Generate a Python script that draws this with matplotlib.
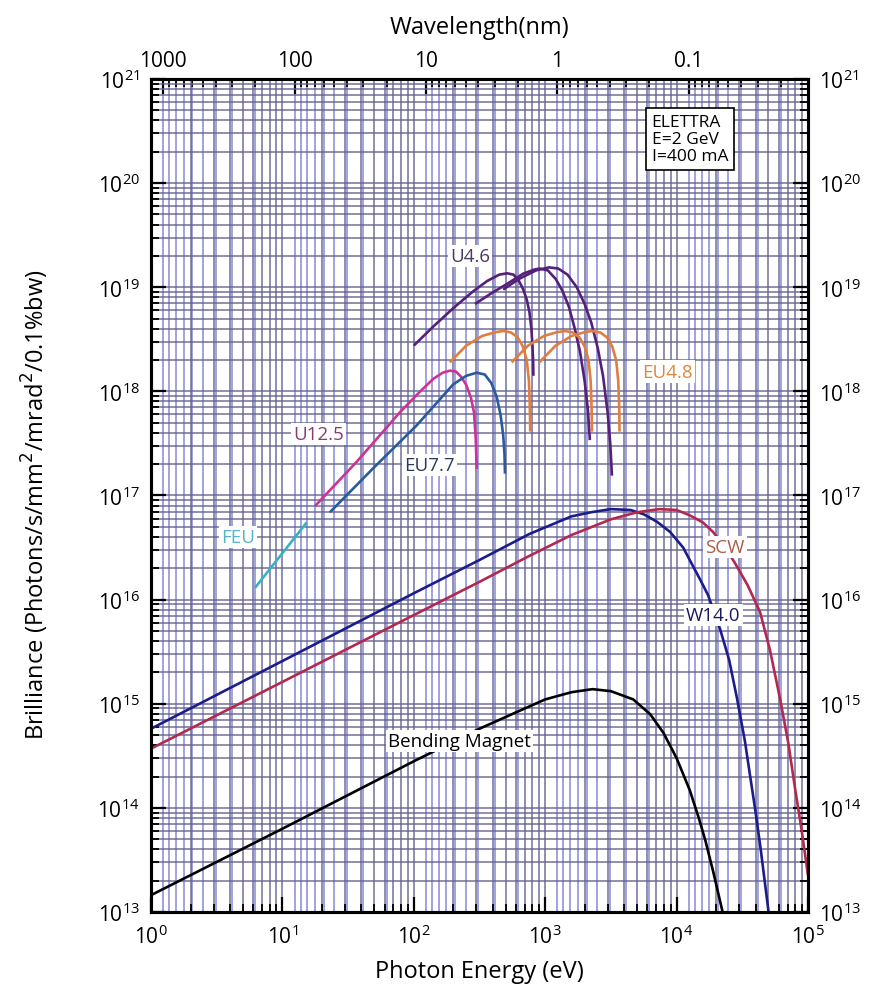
import matplotlib
matplotlib.use('Agg')
import matplotlib.pyplot as plt
from matplotlib.ticker import LogLocator, FixedLocator, FuncFormatter, NullFormatter

plt.rcParams['font.family'] = ['Open Sans', 'DejaVu Sans']

HC = 1239.84  # eV*nm

# bending magnet
bm_e = [1, 10, 100, 316, 631, 1000, 1585, 2291, 3162, 4677, 6310, 7943, 10000, 12590, 14790,
        16600, 19050, 22390]
bm_b = [1.45e13, 6.3e13, 2.8e14, 5.75e14, 8.5e14, 1.1e15, 1.29e15, 1.38e15, 1.32e15, 1.1e15,
        7.9e14, 5.25e14, 3.0e14, 1.48e14, 7.9e13, 4.8e13, 2.4e13, 1.0e13]

# wiggler W14.0
w14_e = [1, 10, 100, 316, 759, 1585, 2239, 3162, 4467, 5623, 7079, 8913, 11220, 13340, 15140,
         17380, 21380, 25120, 28840, 33110, 36310, 39810, 43650, 50120]
w14_b = [5.75e14, 2.57e15, 1.15e16, 2.4e16, 4.27e16, 6.3e16, 6.9e16, 7.4e16, 7.25e16, 6.6e16,
         5.6e16, 4.47e16, 3.16e16, 2.09e16, 1.55e16, 1.1e16, 5.25e15, 2.63e15, 1.12e15, 4.37e14,
         2.0e14, 9.3e13, 4.0e13, 1.0e13]

# superconducting wiggler
scw_e = [1, 10, 100, 316, 759, 1585, 3162, 5012, 7413, 10000, 12590, 15850, 18920, 22910, 27540,
         34670, 43150, 51290, 61240, 70790, 79430, 89130, 100000]
scw_b = [3.7e14, 1.62e15, 7.1e15, 1.48e16, 2.63e16, 4.17e16, 5.9e16, 6.9e16, 7.4e16, 7.25e16,
         6.45e16, 5.5e16, 4.47e16, 3.3e16, 2.29e16, 1.38e16, 7.6e15, 3.3e15, 1.12e15, 4.2e14,
         1.58e14, 6.3e13, 2.24e13]

# undulator U4.6, three tuning curves
u46a_e = [100, 141, 200, 282, 363, 447, 513, 575, 631, 681, 724, 759, 785, 800, 809, 813]
u46a_b = [2.75e18, 4.2e18, 6.3e18, 9.1e18, 1.15e19, 1.32e19, 1.36e19, 1.32e19, 1.15e19, 9.5e18,
          7.6e18, 5.75e18, 4.0e18, 2.75e18, 2.0e18, 1.41e18]
u46b_e = [292, 398, 509, 681, 832, 912, 1047, 1202, 1349, 1514, 1679, 1841, 1995, 2113, 2188]
u46b_b = [6.9e18, 8.9e18, 1.07e19, 1.35e19, 1.48e19, 1.51e19, 1.45e19, 1.2e19, 9.3e18, 6.5e18,
          4.0e18, 2.4e18, 1.26e18, 6.6e17, 3.4e17]
u46c_e = [479, 631, 851, 1072, 1259, 1479, 1738, 1995, 2239, 2512, 2754, 2985, 3126, 3221]
u46c_b = [9.5e18, 1.2e19, 1.45e19, 1.55e19, 1.51e19, 1.32e19, 1.0e19, 6.9e18, 4.6e18, 2.6e18,
          1.41e18, 6.3e17, 3.16e17, 1.55e17]

# elliptical undulator EU4.8, three tuning curves
eu48_b = [1.9e18, 2.75e18, 3.4e18, 3.7e18, 3.8e18, 3.67e18, 3.3e18, 2.7e18, 2.0e18, 1.26e18,
          7.1e17, 4.1e17]
eu48a_e = [188, 251, 331, 417, 479, 550, 617, 676, 724, 752, 764, 769]
eu48b_e = [556, 741, 977, 1230, 1413, 1622, 1820, 1995, 2138, 2218, 2254, 2270]
eu48c_e = [902, 1202, 1585, 1995, 2291, 2630, 2951, 3236, 3467, 3597, 3656, 3681]

# undulator U12.5
u125_e = [17.7, 36.7, 78.5, 112, 141, 166, 188, 209, 229, 251, 272, 287, 296, 301]
u125_b = [7.9e16, 2.1e17, 6.3e17, 1.0e18, 1.32e18, 1.51e18, 1.58e18, 1.55e18, 1.38e18, 1.15e18,
          8.7e17, 6.3e17, 3.55e17, 1.8e17]

# elliptical undulator EU7.7
eu77_e = [23, 49, 105, 200, 251, 301, 347, 389, 427, 457, 479, 490, 494]
eu77_b = [6.9e16, 1.82e17, 4.7e17, 1.17e18, 1.41e18, 1.51e18, 1.45e18, 1.2e18, 8.9e17, 6.0e17,
          3.8e17, 2.5e17, 1.62e17]

# FEU
feu_e = [6.2, 15.3]
feu_b = [1.3e16, 5.5e16]

e_ticks = [1, 10, 100, 1000, 10000, 100000]
b_ticks = [1e13, 1e14, 1e15, 1e16, 1e17, 1e18, 1e19, 1e20, 1e21]
wl_ticks = [1000, 100, 10, 1, 0.1]

fig = plt.figure(figsize=(8.85, 9.87), dpi=100)
ax = fig.add_axes([0.1706, 0.075, 0.7424, 0.844])
ax2 = ax.twiny()
ax.set_zorder(2)
ax2.set_zorder(1)
ax.patch.set_visible(False)

ax.set_xscale('log')
ax.set_yscale('log')
ax.set_xlim(1, 1e5)
ax.set_ylim(1e13, 1e21)

# wavelength axis on top, its grid sits under the energy grid
ax2.set_xscale('log')
ax2.set_xlim(HC / 1, HC / 1e5)

ax.grid(True, which='both', axis='both', color='#62628e', lw=1.1, alpha=0.9)
ax2.grid(True, which='both', axis='x', color='#7c7cd0', lw=1.1, alpha=0.9)
ax.xaxis.set_major_locator(FixedLocator(e_ticks))
ax.yaxis.set_major_locator(FixedLocator(b_ticks))
ax.yaxis.set_minor_locator(LogLocator(base=10, subs=range(2, 10), numticks=20))
ax.xaxis.set_minor_locator(LogLocator(base=10, subs=range(2, 10), numticks=20))
ax.yaxis.set_minor_formatter(NullFormatter())
ax.xaxis.set_minor_formatter(NullFormatter())

ax2.xaxis.set_major_locator(FixedLocator(wl_ticks))
ax2.xaxis.set_minor_locator(LogLocator(base=10, subs=range(2, 10), numticks=20))
ax2.xaxis.set_major_formatter(FuncFormatter(lambda v, p: f'{v:g}'))
ax2.xaxis.set_minor_formatter(NullFormatter())

ax.tick_params(which='major', direction='in', length=11, width=1.6, labelsize=15,
               top=False, right=True, labelright=True)
ax.tick_params(which='minor', direction='in', length=6, width=1.3, top=False, right=True)
ax.tick_params(axis='x', which='major', pad=9)
ax.tick_params(axis='y', which='major', pad=8)
ax2.tick_params(which='major', direction='in', length=11, width=1.6, labelsize=15, pad=6)
ax2.tick_params(which='minor', direction='in', length=6, width=1.3)

for a in (ax, ax2):
    for s in a.spines.values():
        s.set_linewidth(2.2)

kw = dict(lw=1.9, solid_joinstyle='round', solid_capstyle='butt')
ax.plot(bm_e, bm_b, color='black', **kw)
ax.plot(w14_e, w14_b, color='#1c1c8a', **kw)
ax.plot(scw_e, scw_b, color='#b3284f', **kw)
for e, b in [(u46a_e, u46a_b), (u46b_e, u46b_b), (u46c_e, u46c_b)]:
    ax.plot(e, b, color='#55207a', **kw)
for e in (eu48a_e, eu48b_e, eu48c_e):
    ax.plot(e, eu48_b, color='#e07e40', **kw)
ax.plot(u125_e, u125_b, color='#cc3399', **kw)
ax.plot(eu77_e, eu77_b, color='#2a5a9e', **kw)
ax.plot(feu_e, feu_b, color='#3ab0c6', **kw)

box = dict(facecolor='white', edgecolor='none', pad=1.5)
labels = [
    ('U4.6', 269, 2.0e19, '#4a3a5e'),
    ('EU4.8', 8500, 1.55e18, '#d98a40'),
    ('U12.5', 18.8, 3.9e17, '#8a3a6e'),
    ('EU7.7', 132, 1.95e17, '#2a3a5a'),
    ('FEU', 4.6, 4.0e16, '#55b4c8'),
    ('SCW', 23400, 3.2e16, '#b05a48'),
    ('W14.0', 19050, 7.1e15, '#1a1a5a'),
    ('Bending Magnet', 224, 4.4e14, 'black'),
]
for txt, x, y, c in labels:
    ax.text(x, y, txt, color=c, fontsize=13.5, ha='center', va='center', bbox=box, zorder=5)

ax.text(0.762, 0.958, 'ELETTRA\nE=2 GeV\nI=400 mA', transform=ax.transAxes, fontsize=12.5,
        ha='left', va='top', linespacing=1.1, zorder=6,
        bbox=dict(facecolor='white', edgecolor='black', lw=1.2, pad=4))

ax.set_xlabel('Photon Energy (eV)', fontsize=17)
ax.xaxis.set_label_coords(0.5, -0.056)
ax.set_ylabel('Brilliance (Photons/s/mm$^2$/mrad$^2$/0.1%bw)', fontsize=17)
ax.yaxis.set_label_coords(-0.152, 0.49)
ax2.set_xlabel('Wavelength(nm)', fontsize=17)
ax2.xaxis.set_label_coords(0.5, 1.055)

fig.savefig('out.png', dpi=100)
